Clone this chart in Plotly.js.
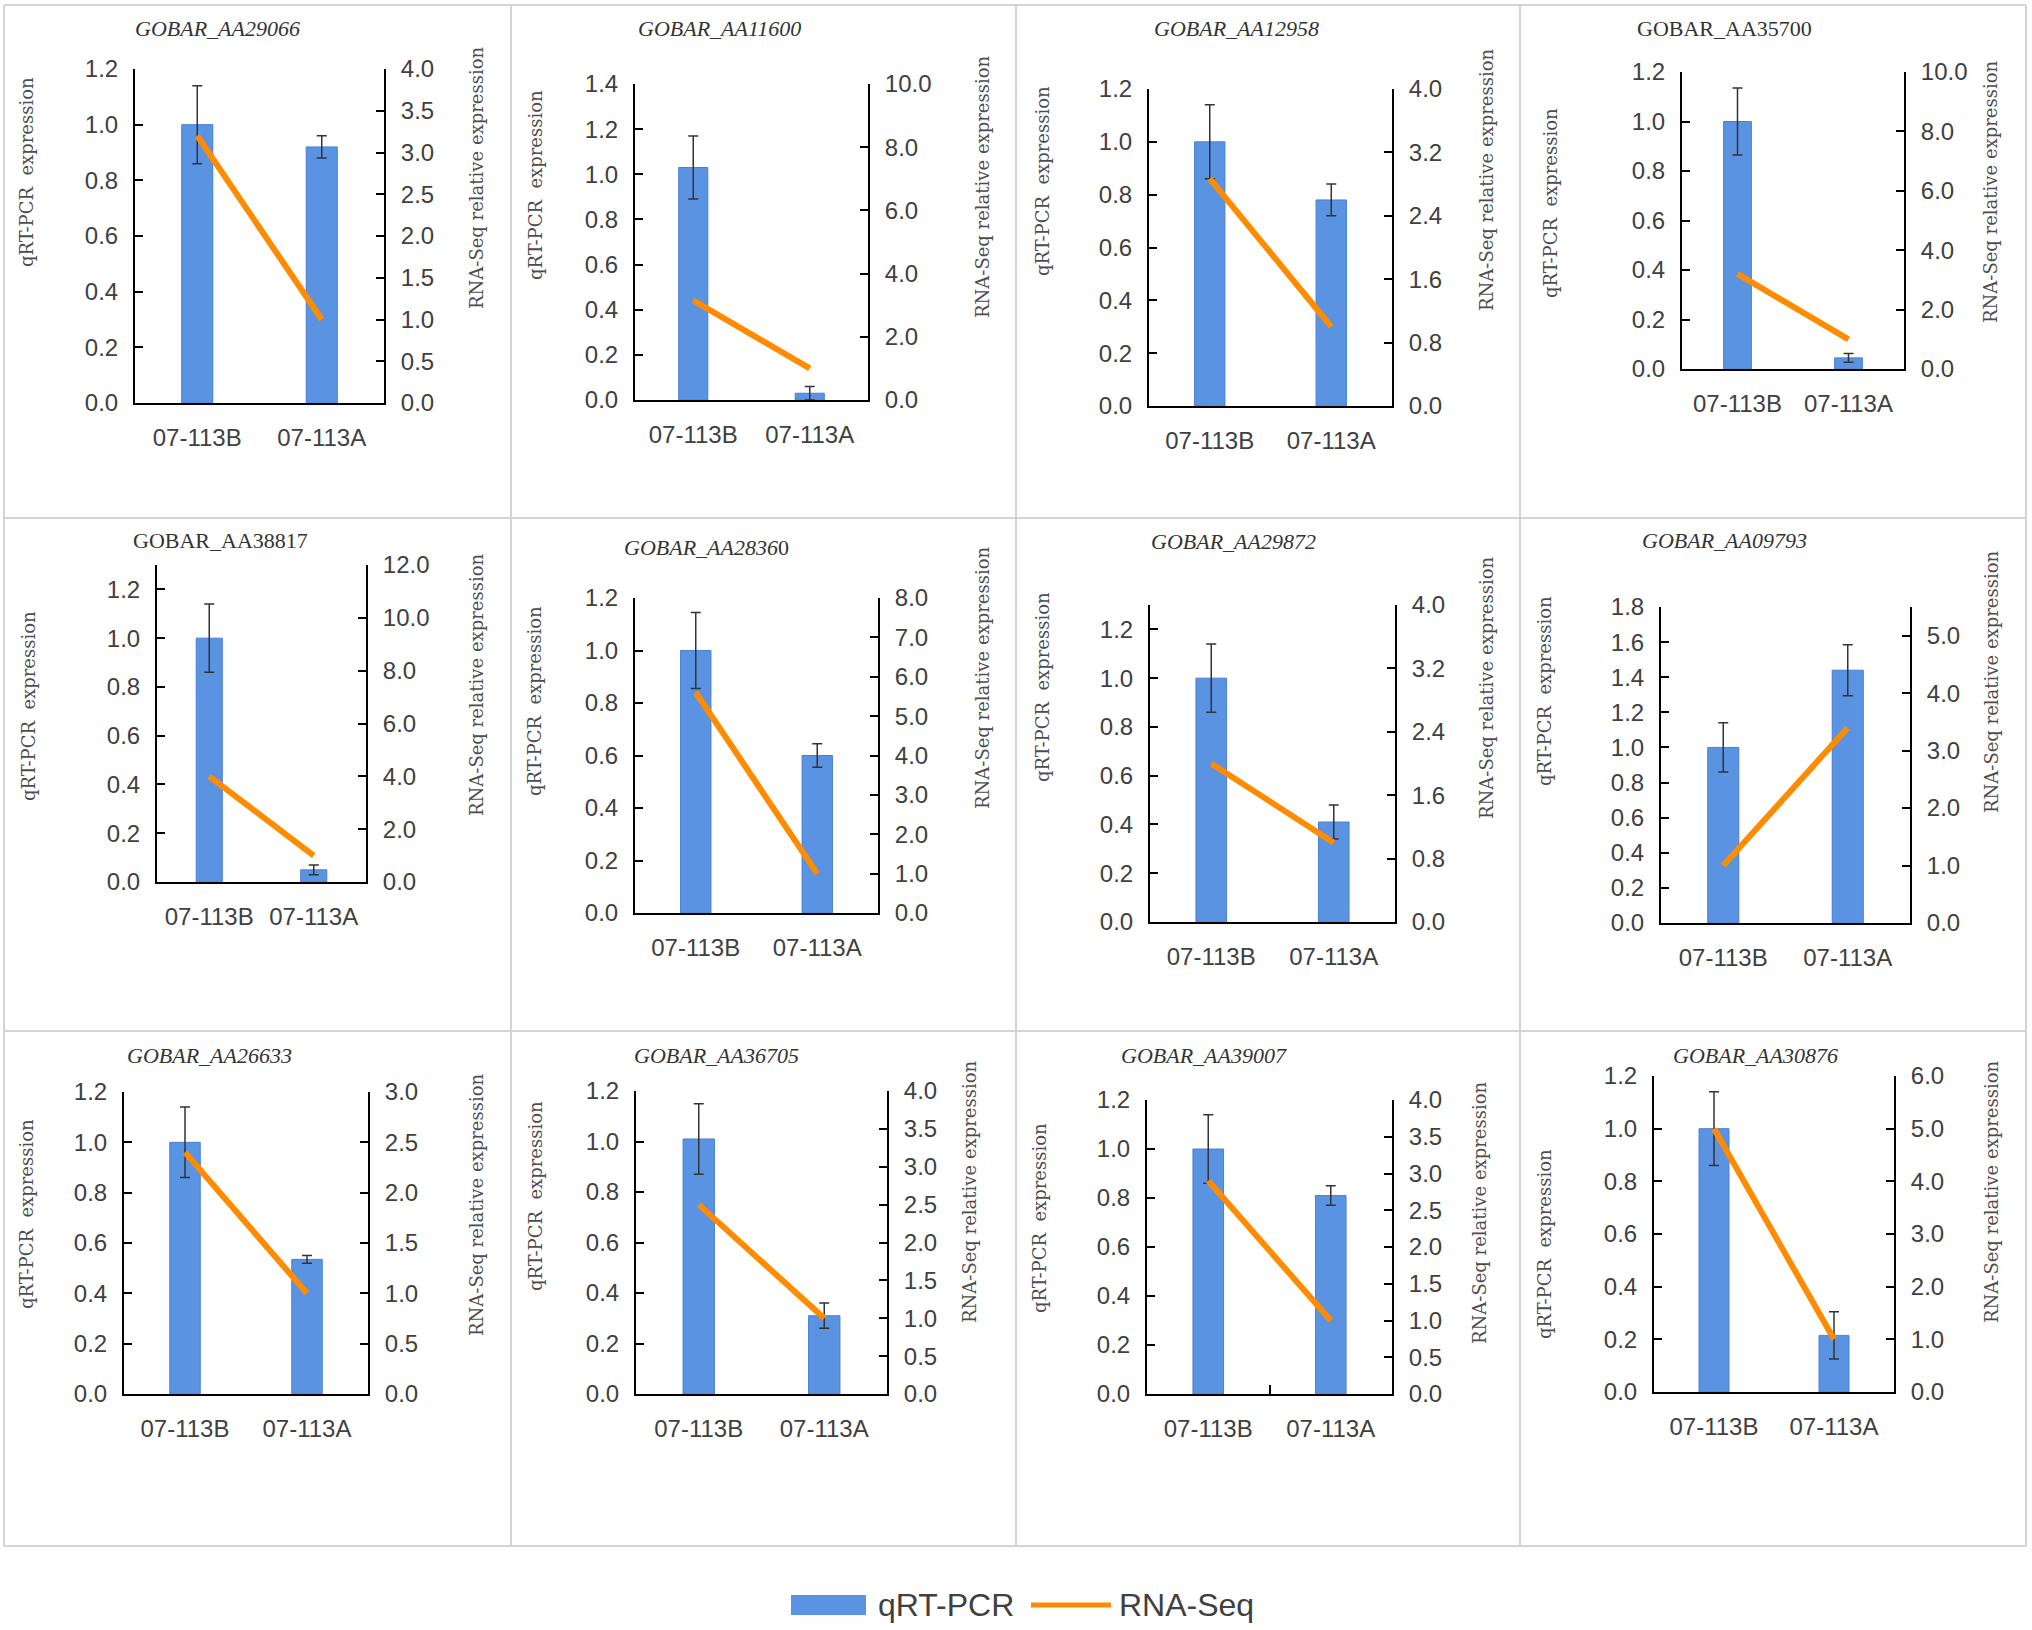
<!DOCTYPE html>
<html><head><meta charset="utf-8">
<script src="https://cdn.plot.ly/plotly-3.0.1.min.js"></script>
<style>html,body{margin:0;padding:0;background:#fff}#chart{width:2032px;height:1630px}</style>
</head><body><div id="chart"></div>
<script>
// ---------------- data ----------------
const categories = ['07-113B', '07-113A'];
const geneTitles = ['<i>GOBAR_AA29066</i>', '<i>GOBAR_AA11600</i>', '<i>GOBAR_AA12958</i>', 'GOBAR_AA35700',
                    'GOBAR_AA38817', '<i>GOBAR_AA2836</i>0', '<i>GOBAR_AA29872</i>', '<i>GOBAR_AA09793</i>',
                    '<i>GOBAR_AA26633</i>', '<i>GOBAR_AA36705</i>', '<i>GOBAR_AA39007</i>', '<i>GOBAR_AA30876</i>'];
const qpcr113B    = [1.00, 1.03, 1.00, 1.00, 1.00, 1.00, 1.00, 1.00, 1.00, 1.01, 1.00, 1.00];
const qpcr113A    = [0.92, 0.03, 0.78, 0.045, 0.05, 0.60, 0.41, 1.44, 0.535, 0.31, 0.81, 0.215];
const qpcrErr113B = [0.14, 0.14, 0.14, 0.135, 0.14, 0.145, 0.14, 0.14, 0.14, 0.14, 0.14, 0.14];
const qpcrErr113A = [0.04, 0.03, 0.06, 0.018, 0.02, 0.045, 0.07, 0.145, 0.015, 0.05, 0.04, 0.09];
const rnaSeq113B  = [3.2, 3.15, 2.87, 3.2, 4.0, 5.6, 2.0, 1.0, 2.4, 2.5, 2.9, 5.0];
const rnaSeq113A  = [1.0, 1.0, 1.0, 1.0, 1.0, 1.0, 1.0, 3.4, 1.0, 1.0, 1.0, 1.0];
const qpcrAxisMax = [1.2, 1.4, 1.2, 1.2, 1.3, 1.2, 1.3, 1.8, 1.2, 1.2, 1.2, 1.2];
const qpcrAxisStep = [0.2, 0.2, 0.2, 0.2, 0.2, 0.2, 0.2, 0.2, 0.2, 0.2, 0.2, 0.2];
const rnaAxisMax  = [4.0, 10.0, 4.0, 10.0, 12.0, 8.0, 4.0, 5.5, 3.0, 4.0, 4.0, 6.0];
const rnaAxisStep = [0.5, 2.0, 0.8, 2.0, 2.0, 1.0, 0.8, 1.0, 0.5, 0.5, 0.5, 1.0];
const seriesNames = ['qRT-PCR', 'RNA-Seq'];
const leftAxisTitle = 'qRT-PCR  expression';
const rightAxisTitle = 'RNA-Seq relative expression';

// ---------------- layout geometry (px) ----------------
const W = 2032, H = 1630;
const panelBox = [[135,384,403,69],[635,868,400,84],[1149,1392,406,89],[1682,1904,369,72],
                  [157,366,882,565],[635,878,913,598],[1150,1395,922,605],[1661,1910,923,607],
                  [124,368,1394,1092],[636,887,1394,1091],[1147,1392,1394,1100],[1654,1894,1392,1076]];
const titlePos = [[217,28],[719,28],[1236,28],[1724,28],[220,540],[706,547],[1233,541],[1724,540],
                  [209,1055],[716,1055],[1204,1055],[1755,1055]];
const leftTitlePos = [[26,172],[535,185],[1042,181],[1551,203],[29,706],[535,701],[1042,687],[1544,691],
                      [26,1214],[535,1196],[1039,1218],[1544,1244]];
const rightTitlePos = [[476,178],[982,187],[1486,180],[1991,192],[476,685],[982,678],[1486,688],[1991,682],
                       [476,1205],[969,1192],[1479,1213],[1991,1192]];
const panelDividerTick = [false,false,false,false,false,false,false,false,false,false,true,false];

const BAR_COLOR = '#5B93E3', LINE_COLOR = '#FF8C00';
const tickFont = {family: 'Liberation Sans, Arial, sans-serif', size: 24, color: '#404040'};
const axisTitleFont = {family: 'DejaVu Serif, serif', size: 18, color: '#4d4d4d'};
const px = v => v / W, py = v => 1 - v / H;

const data = [];
const layout = {
  width: W, height: H, margin: {l: 0, r: 0, t: 0, b: 0},
  paper_bgcolor: '#ffffff', plot_bgcolor: 'rgba(0,0,0,0)',
  showlegend: false, annotations: [], shapes: []
};

for (let i = 0; i < 12; i++) {
  const xi = i + 1, yl = 2 * i + 1, yr = 2 * i + 2;
  const xName = 'x' + (xi === 1 ? '' : xi);
  const ylName = 'y' + (yl === 1 ? '' : yl);
  const yrName = 'y' + yr;
  const [xL, xR, yB, yT] = panelBox[i];

  data.push({
    type: 'bar', name: seriesNames[0], x: categories, y: [qpcr113B[i], qpcr113A[i]],
    width: 0.25, xaxis: xName, yaxis: ylName,
    marker: {color: BAR_COLOR, line: {color: '#4A80D4', width: 1}},
    error_y: {type: 'data', array: [qpcrErr113B[i], qpcrErr113A[i]], visible: true,
              color: '#333333', thickness: 1.5, width: 5},
    hoverinfo: 'skip'
  });
  data.push({
    type: 'scatter', mode: 'lines', name: seriesNames[1], x: categories, y: [rnaSeq113B[i], rnaSeq113A[i]],
    xaxis: xName, yaxis: yrName, line: {color: LINE_COLOR, width: 6}, hoverinfo: 'skip'
  });

  layout['xaxis' + (xi === 1 ? '' : xi)] = {
    domain: [px(xL), px(xR)], anchor: ylName, type: 'category', range: [-0.5, 1.5],
    showline: true, linecolor: '#000', linewidth: 2, showgrid: false, zeroline: false,
    ticks: panelDividerTick[i] ? 'inside' : '', tickson: 'boundaries', ticklen: 9, tickwidth: 2, tickcolor: '#000',
    tickfont: tickFont, ticklabelstandoff: 12, fixedrange: true
  };
  layout['yaxis' + (yl === 1 ? '' : yl)] = {
    domain: [py(yB), py(yT)], anchor: xName, range: [0, qpcrAxisMax[i]],
    tick0: 0, dtick: qpcrAxisStep[i], tickformat: '.1f',
    showline: true, linecolor: '#000', linewidth: 2, showgrid: false, zeroline: false,
    ticks: 'inside', ticklen: 8, tickwidth: 2, tickcolor: '#000',
    tickfont: tickFont, ticklabelstandoff: 10, fixedrange: true
  };
  layout['yaxis' + yr] = {
    overlaying: ylName, side: 'right', anchor: xName, range: [0, rnaAxisMax[i]],
    tick0: 0, dtick: rnaAxisStep[i], tickformat: '.1f',
    showline: true, linecolor: '#000', linewidth: 2, showgrid: false, zeroline: false,
    ticks: 'inside', ticklen: 8, tickwidth: 2, tickcolor: '#000',
    tickfont: tickFont, ticklabelstandoff: 10, fixedrange: true
  };

  layout.annotations.push({
    text: geneTitles[i], xref: 'paper', yref: 'paper', x: px(titlePos[i][0]), y: py(titlePos[i][1]),
    xanchor: 'center', yanchor: 'middle', showarrow: false,
    font: {family: 'Liberation Serif, Times New Roman, serif', size: 22, color: '#333333'}
  });
  layout.annotations.push({
    text: leftAxisTitle.replace(/ /g, '&nbsp;'), xref: 'paper', yref: 'paper',
    x: px(leftTitlePos[i][0]), y: py(leftTitlePos[i][1]), textangle: -90,
    xanchor: 'center', yanchor: 'middle', showarrow: false, font: axisTitleFont
  });
  layout.annotations.push({
    text: rightAxisTitle, xref: 'paper', yref: 'paper',
    x: px(rightTitlePos[i][0]), y: py(rightTitlePos[i][1]), textangle: -90,
    xanchor: 'center', yanchor: 'middle', showarrow: false, font: axisTitleFont
  });
}

// panel frame lines
const frameX = [4, 511, 1016, 1520, 2026];
const frameY = [5, 518, 1031, 1546];
frameX.forEach(x => layout.shapes.push({type: 'line', xref: 'paper', yref: 'paper',
  x0: px(x), x1: px(x), y0: py(frameY[0]), y1: py(frameY[3]), line: {color: '#d4d4d4', width: 2}}));
frameY.forEach(y => layout.shapes.push({type: 'line', xref: 'paper', yref: 'paper',
  x0: px(frameX[0]), x1: px(frameX[4]), y0: py(y), y1: py(y), line: {color: '#d4d4d4', width: 2}}));

// legend (bottom centre)
layout.shapes.push({type: 'rect', xref: 'paper', yref: 'paper', x0: px(791), x1: px(866), y0: py(1615), y1: py(1595),
  fillcolor: BAR_COLOR, line: {width: 0}});
layout.shapes.push({type: 'line', xref: 'paper', yref: 'paper', x0: px(1031), x1: px(1111), y0: py(1605), y1: py(1605),
  line: {color: LINE_COLOR, width: 5}});
const legendFont = {family: 'Liberation Sans, Arial, sans-serif', size: 32, color: '#404040'};
layout.annotations.push({text: seriesNames[0], xref: 'paper', yref: 'paper', x: px(876), y: py(1605),
  xanchor: 'left', yanchor: 'middle', showarrow: false, font: legendFont});
layout.annotations.push({text: seriesNames[1], xref: 'paper', yref: 'paper', x: px(1117), y: py(1605),
  xanchor: 'left', yanchor: 'middle', showarrow: false, font: legendFont});

Plotly.newPlot('chart', data, layout, {staticPlot: true, displayModeBar: false});
</script>
</body></html>
